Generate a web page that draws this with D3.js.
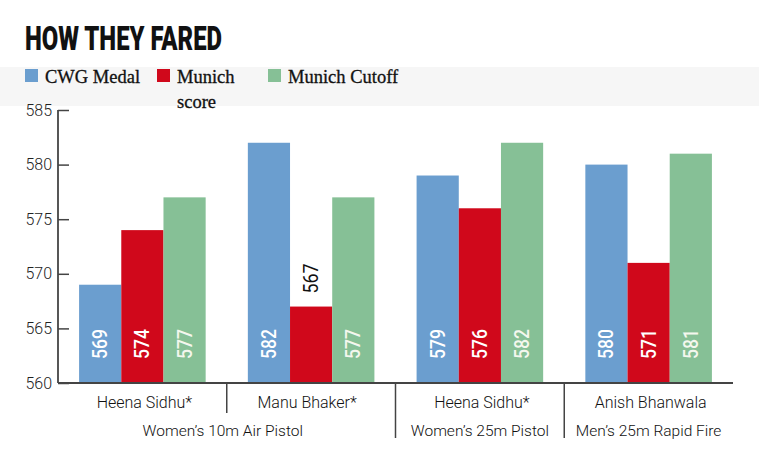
<!DOCTYPE html>
<html>
<head>
<meta charset="utf-8">
<script src="https://cdn.jsdelivr.net/npm/d3@7"></script>
<style>
  body { margin: 0; background: #fff; }
  svg { display: block; }
</style>
</head>
<body>
<svg id="chart" width="759" height="459"></svg>
<script>
// chart data
const players = ["Heena Sidhu*", "Manu Bhaker*", "Heena Sidhu*", "Anish Bhanwala"];
const cwgMedal = [569, 582, 579, 580];
const munichScore = [574, 567, 576, 571];
const munichCutoff = [577, 577, 582, 581];
const seriesNames = ["CWG Medal", "Munich score", "Munich Cutoff"];
const seriesColors = ["#6b9ecf", "#d0081b", "#86c096"];
const events = ["Women\u2019s 10m Air Pistol", "Women\u2019s 25m Pistol", "Men\u2019s 25m Rapid Fire"];
const eventGroups = [[0, 1], [2], [3]];
const yTicks = [560, 565, 570, 575, 580, 585];

const svg = d3.select("#chart");
const sans = "Roboto, 'DejaVu Sans', sans-serif";
const serif = "'Liberation Serif', 'DejaVu Serif', serif";

const plot = { left: 58, right: 733, top: 110, bottom: 383 };

// light band behind legend
svg.append("rect").attr("x", 0).attr("y", 67).attr("width", 759).attr("height", 39)
    .attr("fill", "#f6f6f6");

// title
svg.append("text")
    .attr("x", 25).attr("y", 50)
    .attr("font-family", sans).attr("font-weight", 900)
    .attr("font-size", 33)
    .attr("textLength", 197).attr("lengthAdjust", "spacingAndGlyphs")
    .attr("fill", "#111")
    .text("HOW THEY FARED");

// legend
const legendX = [25, 157, 268];
seriesNames.forEach((name, i) => {
    const g = svg.append("g").attr("transform", `translate(${legendX[i]},69)`);
    g.append("rect").attr("width", 13).attr("height", 13).attr("fill", seriesColors[i]);
    const t = g.append("text").attr("x", 20).attr("y", 14)
        .attr("font-family", serif).attr("font-size", 18.5).attr("fill", "#111")
        .attr("stroke", "#111").attr("stroke-width", 0.3);
    if (name === "Munich score") {
        t.append("tspan").attr("x", 20).text("Munich");
        t.append("tspan").attr("x", 20).attr("dy", 25).text("score");
    } else {
        t.text(name);
    }
});

const x0 = d3.scaleBand()
    .domain(d3.range(players.length))
    .range([plot.left, plot.right])
    .paddingInner(0.25)
    .paddingOuter(0.125);

const x1 = d3.scaleBand()
    .domain(d3.range(seriesNames.length))
    .range([0, x0.bandwidth()])
    .padding(0);

const y = d3.scaleLinear().domain([560, 585]).range([plot.bottom, plot.top]);

const rows = players.map((p, i) => ({
    i: i,
    vals: [cwgMedal[i], munichScore[i], munichCutoff[i]]
}));

// bars
const groups = svg.selectAll(".grp").data(rows).join("g").attr("class", "grp")
    .attr("transform", d => `translate(${x0(d.i)},0)`);

groups.selectAll("rect").data(d => d.vals.map((v, s) => ({ v, s })))
    .join("rect")
    .attr("x", d => x1(d.s))
    .attr("y", d => y(d.v))
    .attr("width", x1.bandwidth())
    .attr("height", d => plot.bottom - y(d.v))
    .attr("fill", d => seriesColors[d.s]);

// value labels (rotated); short bars get the label above
const fitsInside = v => (plot.bottom - y(v)) > 85;
groups.selectAll(".val").data(d => d.vals.map((v, s) => ({ v, s })))
    .join("text").attr("class", "val")
    .attr("transform", d => {
        const cx = x1(d.s) + x1.bandwidth() / 2 + 7;
        const yy = fitsInside(d.v) ? plot.bottom - 24 : y(d.v) - 13;
        return `translate(${cx},${yy}) rotate(-90)`;
    })
    .attr("font-family", sans).attr("font-weight", d => fitsInside(d.v) ? 500 : 400)
    .attr("font-size", 21)
    .attr("textLength", 30).attr("lengthAdjust", "spacingAndGlyphs")
    .attr("fill", d => fitsInside(d.v) ? (d.s === 2 ? "#f4f7ee" : "#fff") : "#111")
    .text(d => d.v);

// y axis
const yAxis = svg.append("g").attr("transform", `translate(${plot.left},0)`)
    .call(d3.axisRight(y).tickValues(yTicks).tickSize(11).tickFormat(""));
yAxis.select(".domain").remove();
yAxis.selectAll("line").attr("stroke", "#444").attr("stroke-width", 1.5);
svg.append("line").attr("x1", plot.left).attr("x2", plot.left)
    .attr("y1", plot.top).attr("y2", plot.bottom)
    .attr("stroke", "#444").attr("stroke-width", 1.8);

svg.selectAll(".ylab").data(yTicks).join("text").attr("class", "ylab")
    .attr("x", plot.left - 6).attr("y", d => y(d) + 5.5)
    .attr("text-anchor", "end")
    .attr("font-family", sans).attr("font-weight", 300).attr("font-size", 16)
    .attr("fill", "#222")
    .text(d => d);

// x baseline
svg.append("line").attr("x1", plot.left).attr("x2", plot.right)
    .attr("y1", plot.bottom).attr("y2", plot.bottom)
    .attr("stroke", "#444").attr("stroke-width", 1.8);

// separators between groups
const seps = [
    { x: x0(1) - x0.step() * x0.paddingInner() / 2, len: 30 },
    { x: x0(2) - x0.step() * x0.paddingInner() / 2, len: 55 },
    { x: x0(3) - x0.step() * x0.paddingInner() / 2, len: 55 }
];
svg.selectAll(".sep").data(seps).join("line").attr("class", "sep")
    .attr("x1", d => d.x).attr("x2", d => d.x)
    .attr("y1", plot.bottom).attr("y2", d => plot.bottom + d.len)
    .attr("stroke", "#444").attr("stroke-width", 1.5);

// player labels
svg.selectAll(".plab").data(players).join("text").attr("class", "plab")
    .attr("x", (d, i) => x0(i) + x0.bandwidth() / 2 + (i === 1 ? -4 : 2))
    .attr("y", 408)
    .attr("text-anchor", "middle")
    .attr("font-family", sans).attr("font-weight", 300).attr("font-size", 16)
    .attr("fill", "#111")
    .text(d => d);

// event labels
svg.selectAll(".elab").data(events).join("text").attr("class", "elab")
    .attr("x", (d, i) => d3.mean(eventGroups[i], g => x0(g) + x0.bandwidth() / 2) - (i === 0 ? 4 : 0))
    .attr("y", 436)
    .attr("text-anchor", "middle")
    .attr("font-family", sans).attr("font-weight", 300).attr("font-size", 15.5)
    .attr("fill", "#111")
    .text(d => d);
</script>
</body>
</html>
